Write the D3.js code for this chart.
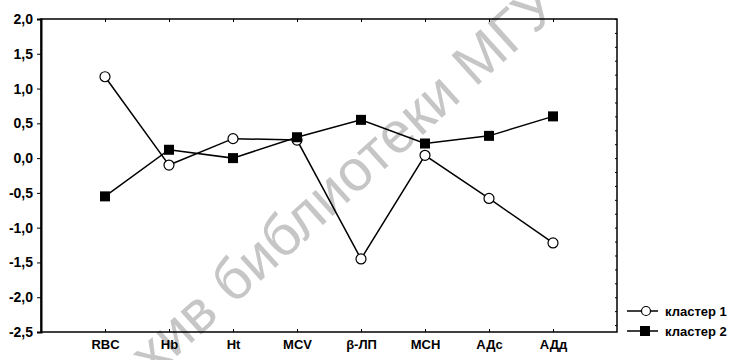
<!DOCTYPE html>
<html><head><meta charset="utf-8">
<script src="https://cdn.jsdelivr.net/npm/d3@7"></script>
<style>body{margin:0;background:#fff}svg{display:block}text{font-family:Arial,"Liberation Sans",sans-serif}</style>
</head><body><svg id="c" width="740" height="360"></svg>
<script>
const categories = ["RBC","Hb","Ht","MCV","β-ЛП","MCH","АДс","АДд"];
const cluster1 = [1.17,-0.10,0.28,0.26,-1.45,0.04,-0.58,-1.22];
const cluster2 = [-0.55,0.12,0.00,0.30,0.55,0.21,0.32,0.60];
const yTicks = [2.0,1.5,1.0,0.5,0.0,-0.5,-1.0,-1.5,-2.0,-2.5];
const seriesNames = ["кластер 1","кластер 2"];
const watermark = "архив библиотеки МГУ";

const svg = d3.select("#c");
const L=41,R=617,T=19,B=332;
const x = d3.scalePoint().domain(categories).range([L,R]).padding(1);
const y = d3.scaleLinear().domain([-2.5,2.0]).range([B,T]);

// watermark
svg.append("text").attr("transform","translate(105,421) rotate(-42)")
  .attr("font-size",58).attr("fill","#c6c6c6").text(watermark);

// frame
svg.append("rect").attr("x",L).attr("y",T).attr("width",R-L).attr("height",B-T)
  .attr("fill","none").attr("stroke","#000").attr("stroke-width",1.5);

const fmt = d => d3.format(".1f")(d).replace(".",",").replace("−","-");
const ya = svg.append("g").attr("transform",`translate(${L},0)`)
  .call(d3.axisLeft(y).tickValues(yTicks).tickSize(4).tickPadding(4).tickFormat(fmt));
ya.select(".domain").attr("stroke-width",2);
ya.selectAll("text").attr("font-size",14).attr("font-weight","bold").attr("fill","#000");

// right axis inward ticks
const yr = svg.append("g").attr("transform",`translate(${R},0)`)
  .call(d3.axisRight(y).ticks(18).tickSize(-2).tickFormat(""));
yr.select(".domain").remove();

const xa = svg.append("g").attr("transform",`translate(0,${B})`)
  .call(d3.axisBottom(x).tickSizeInner(-3).tickSizeOuter(0).tickPadding(8));
xa.select(".domain").remove();
xa.selectAll("text").attr("font-size",13).attr("font-weight","bold").attr("fill","#000");

// top axis inward ticks
const xt = svg.append("g").attr("transform",`translate(0,${T})`)
  .call(d3.axisTop(x).tickSizeInner(-3).tickSizeOuter(0).tickFormat(""));
xt.select(".domain").remove();

const line = d3.line().x((d,i)=>x(categories[i])).y(d=>y(d));
[cluster1,cluster2].forEach(s=>svg.append("path").datum(s).attr("d",line)
  .attr("fill","none").attr("stroke","#000").attr("stroke-width",1.5));

svg.append("g").selectAll("circle").data(cluster1).join("circle")
  .attr("cx",(d,i)=>x(categories[i])).attr("cy",d=>y(d)).attr("r",5)
  .attr("fill","#fff").attr("stroke","#000").attr("stroke-width",1.2);
svg.append("g").selectAll("rect").data(cluster2).join("rect")
  .attr("x",(d,i)=>x(categories[i])-5).attr("y",d=>y(d)-5).attr("width",10).attr("height",10)
  .attr("fill","#000");

// legend
const lg = svg.append("g");
[311,331].forEach((ly,i)=>{
  lg.append("line").attr("x1",627).attr("x2",658).attr("y1",ly).attr("y2",ly).attr("stroke","#000").attr("stroke-width",1.5);
  if(i===0) lg.append("circle").attr("cx",646).attr("cy",ly).attr("r",4.5).attr("fill","#fff").attr("stroke","#000").attr("stroke-width",1.2);
  else lg.append("rect").attr("x",640).attr("y",ly-5).attr("width",10).attr("height",10).attr("fill","#000");
  lg.append("text").attr("x",665).attr("y",ly+4.5).attr("font-size",13).attr("font-weight","bold").text(seriesNames[i]);
});
</script></body></html>
